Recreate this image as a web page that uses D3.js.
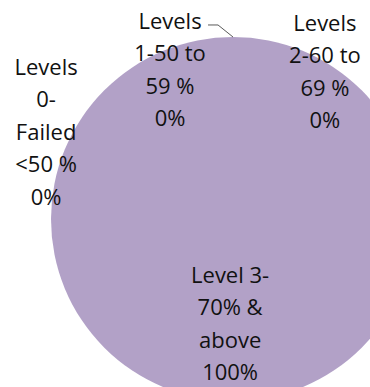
<!DOCTYPE html>
<html>
<head>
<meta charset="utf-8">
<script src="https://cdn.jsdelivr.net/npm/d3@7/dist/d3.min.js"></script>
<style>
  html, body { margin: 0; padding: 0; background: #fff; }
  svg { display: block; }
</style>
</head>
<body>
<svg id="chart" width="370" height="387"></svg>
<script>
// ---- data ----
const categories = ["Levels 0-Failed <50 %", "Levels 1-50 to 59 %", "Levels 2-60 to 69 %", "Level 3-70% & above"];
const values = [0, 0, 0, 100];
// label text lines (as shown wrapped in the chart)
const labelLines = [
  ["Levels", "0-", "Failed", "<50 %"],
  ["Levels", "1-50 to", "59 %"],
  ["Levels", "2-60 to", "69 %"],
  ["Level 3-", "70% &", "above"]
];
const sliceColors = ["#4F81BD", "#C0504D", "#9BBB59", "#B2A1C7"];

// ---- layout ----
const W = 370, H = 387;
const cx = 233, cy = 219, R = 182;
const lineH = 32.5;
// label anchor (centre x, first-line centre y) relative to pie centre, in radius units
const labelAnchors = [
  [-1.027, -0.835],
  [-0.346, -1.088],
  [0.505, -1.077],
  [-0.016, 0.308]
];

const svg = d3.select("#chart");
const g = svg.append("g").attr("transform", `translate(${cx},${cy})`);

const total = d3.sum(values);
const pie = d3.pie().sort(null).value(d => d)(values);
const arc = d3.arc().innerRadius(0).outerRadius(R);

g.selectAll("path.slice")
  .data(pie)
  .join("path")
  .attr("class", "slice")
  .attr("d", arc)
  .attr("fill", (d, i) => sliceColors[i])
  .attr("stroke", "none");

const pct = d3.format(".0%");

// leader line for category 1 (points to the zero-width slice at the top)
{
  const i = 1;
  const a = pie[i].startAngle;
  const px = Math.sin(a) * R, py = -Math.cos(a) * R;
  const lx = labelAnchors[i][0] * R, ly = labelAnchors[i][1] * R;
  const startX = lx + 38, startY = ly + 4;
  g.append("polyline")
    .attr("points", [[startX, startY], [startX + 10, startY], [px, py]].map(p => p.join(",")).join(" "))
    .attr("fill", "none")
    .attr("stroke", "#595959")
    .attr("stroke-width", 1);
}

labelLines.forEach((lines, i) => {
  const all = lines.concat([pct(values[i] / total)]);
  const x = labelAnchors[i][0] * R, y0 = labelAnchors[i][1] * R;
  const t = g.append("text")
    .attr("text-anchor", "middle")
    .attr("font-family", "'Open Sans', sans-serif")
    .attr("font-size", 22)
    .attr("fill", "#111");
  all.forEach((s, k) => {
    t.append("tspan")
      .attr("x", x)
      .attr("y", y0 + k * lineH)
      .attr("dy", "0.36em")
      .text(s);
  });
});
</script>
</body>
</html>
